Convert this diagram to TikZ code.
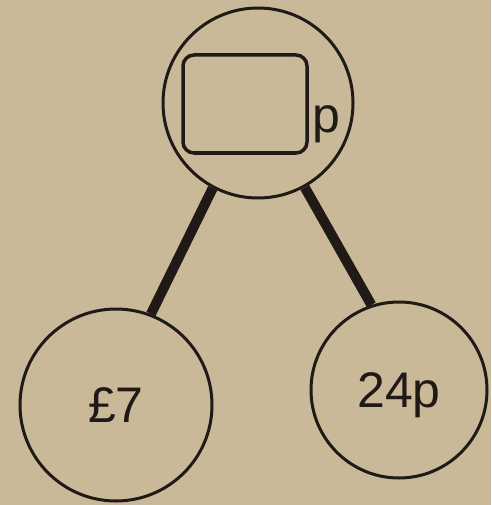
\documentclass[tikz,border=0pt]{standalone}
\usepackage{fontspec}
\setmainfont{Liberation Sans}
\definecolor{paper}{HTML}{C9B998}
\definecolor{ink}{HTML}{1F1A15}
\begin{document}
\begin{tikzpicture}[x=1pt,y=-1pt,
  partcirc/.style={draw=ink, line width=3pt, circle, inner sep=0pt, text=ink,
     font=\fontsize{50}{50}\selectfont},
  bond/.style={draw=ink, line width=10pt},
  blankbox/.style={draw=ink, line width=3.5pt, rounded corners=11pt, inner sep=0pt}]
\fill[paper] (0,0) rectangle (491,505);
\useasboundingbox (0,0) rectangle (491,505);
\node[partcirc, minimum size=190pt] (top) at (258,103) {};
\node[blankbox, minimum width=124pt, minimum height=98pt] (box) at (245,104) {};
\node[anchor=base west, inner sep=0pt, text=ink, font=\fontsize{50}{50}\selectfont] (unit) at (312,132) {p};
\node[partcirc, minimum size=192pt] (left) at (116,405) {£7};
\node[partcirc, minimum size=176pt, text depth=0pt] (right) at (399,390) {24p};
\draw[bond] (top.-118) -- (left.69);
\draw[bond] (top.-61) -- (right.108);
\end{tikzpicture}
\end{document}
